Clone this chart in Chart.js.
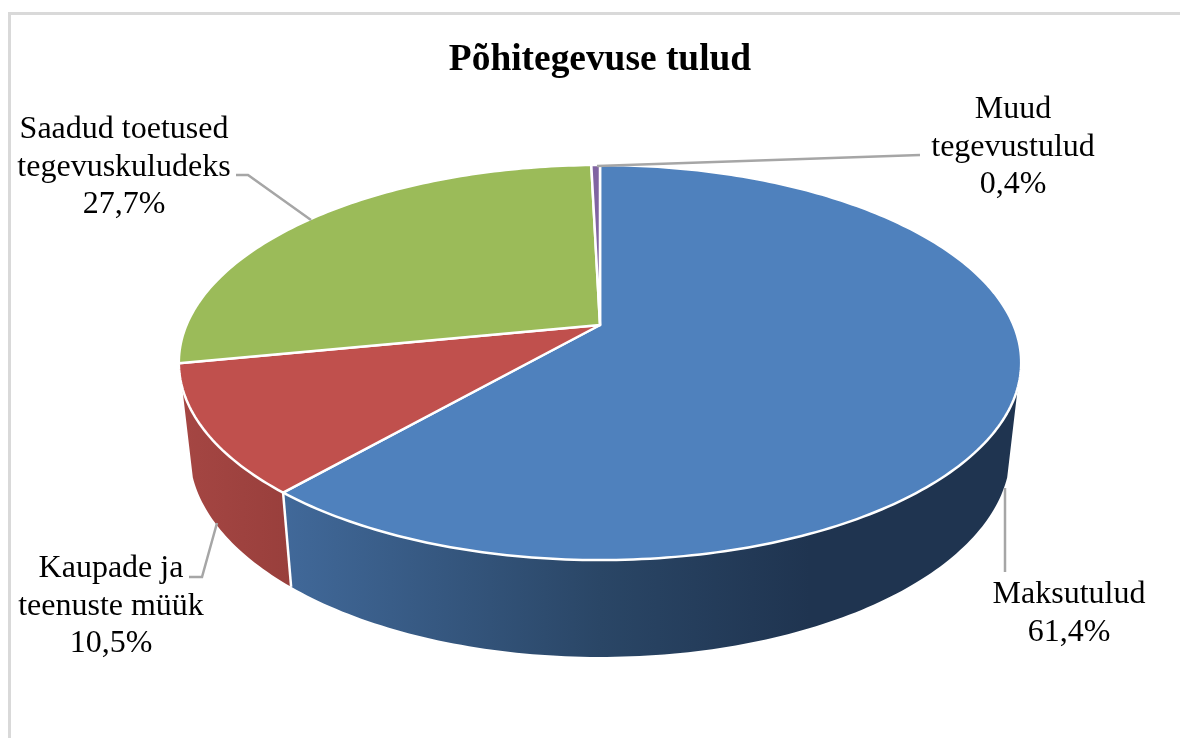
<!DOCTYPE html>
<html lang="et">
<head>
    <meta charset="UTF-8">
    <title>Põhitegevuse tulud</title>
    <script src="https://cdn.jsdelivr.net/npm/chart.js"></script>
    <style>
        html, body { margin: 0; background: #fff; overflow: hidden; }
        #frame { position: absolute; left: 8px; top: 12px; width: 1180px; height: 800px; border: 3px solid #d9d9d9; box-sizing: border-box; }
        canvas { position: absolute; left: 0; top: 0; filter: blur(0.6px); }
    </style>
</head>
<body>
    <div id="frame"></div>
    <canvas id="chart" width="1180" height="738"></canvas>
    <script>
        const titleText = 'Põhitegevuse tulud';
        const categories = ['Maksutulud', 'Kaupade ja teenuste müük', 'Saadud toetused tegevuskuludeks', 'Muud tegevustulud'];
        const shares = [61.4, 10.5, 27.7, 0.4];
        const topColors = ['#4f81bd', '#c0504d', '#9bbb59', '#8064a2'];
        const labelLines = [['Maksutulud'], ['Kaupade ja', 'teenuste müük'], ['Saadud toetused', 'tegevuskuludeks'], ['Muud', 'tegevustulud']];

        // perspective of the disc, tuned by eye against the reference
        const apexY = 325, tilt = 0.19;
        const topDisc = { a: 413.5, b: 190.4, y0: apexY };
        const lowDisc = { a: 403, b: 198, y0: 412.5 };
        // part of the rim that faces the viewer (canvas angles)
        const rimFrom = 18 * Math.PI / 180, rimTo = 162 * Math.PI / 180;

        function project(disc, cx, angle) {
            const w = 1 - tilt * Math.sin(angle);
            return { x: cx + disc.a * Math.cos(angle) / w, y: disc.y0 + disc.b * Math.sin(angle) / w };
        }

        function traceArc(ctx, disc, cx, from, to, first) {
            const steps = Math.max(2, Math.ceil(Math.abs(to - from) * 60));
            for (let i = 0; i <= steps; i++) {
                const p = project(disc, cx, from + (to - from) * i / steps);
                if (i === 0 && first) ctx.moveTo(p.x, p.y);
                else ctx.lineTo(p.x, p.y);
            }
        }

        function rimGradient(ctx, index) {
            const g = ctx.createLinearGradient(180, 0, 1020, 0);
            if (index === 0) {
                g.addColorStop(0.12, '#41699a');
                g.addColorStop(0.5, '#2a4666');
                g.addColorStop(0.75, '#1f3450');
                g.addColorStop(1, '#1f3450');
            } else {
                g.addColorStop(0, '#a54643');
                g.addColorStop(0.15, '#973e3b');
            }
            return g;
        }

        const disc3d = {
            id: 'disc3d',
            beforeDatasetsDraw(chart) {
                const ctx = chart.ctx;
                const arcs = chart.getDatasetMeta(0).data;
                ctx.save();
                ctx.lineJoin = 'round';
                ctx.strokeStyle = '#fff';

                // rim first, the top surface goes over it
                arcs.forEach((arc, i) => {
                    const from = Math.max(arc.startAngle, rimFrom);
                    const to = Math.min(arc.endAngle, rimTo);
                    if (to <= from) return;
                    ctx.beginPath();
                    traceArc(ctx, topDisc, arc.x, from, to, true);
                    traceArc(ctx, lowDisc, arc.x, to, from, false);
                    ctx.closePath();
                    ctx.fillStyle = rimGradient(ctx, i);
                    ctx.fill();
                });
                // seam between two rim parts
                arcs.forEach(arc => {
                    if (arc.endAngle > rimFrom && arc.endAngle < rimTo) {
                        const a = project(topDisc, arc.x, arc.endAngle);
                        const b = project(lowDisc, arc.x, arc.endAngle);
                        ctx.lineWidth = 2.5;
                        ctx.beginPath();
                        ctx.moveTo(a.x, a.y);
                        ctx.lineTo(b.x, b.y);
                        ctx.stroke();
                    }
                });

                arcs.forEach((arc, i) => {
                    ctx.beginPath();
                    ctx.moveTo(arc.x, apexY);
                    traceArc(ctx, topDisc, arc.x, arc.startAngle, arc.endAngle, false);
                    ctx.closePath();
                    ctx.fillStyle = topColors[i];
                    ctx.fill();
                    ctx.lineWidth = 2.5;
                    ctx.stroke();
                });
                ctx.restore();
                return false;
            },
            afterDraw(chart) {
                const ctx = chart.ctx;
                ctx.save();
                ctx.strokeStyle = '#a6a6a6';
                ctx.lineWidth = 2.5;
                const leaders = [
                    [[1005, 488], [1005, 572]],
                    [[189, 577], [202, 577], [217, 523]],
                    [[236, 175], [248, 175], [311, 220]],
                    [[597, 166], [920, 155]]
                ];
                leaders.forEach(pts => {
                    ctx.beginPath();
                    pts.forEach((p, i) => i ? ctx.lineTo(p[0], p[1]) : ctx.moveTo(p[0], p[1]));
                    ctx.stroke();
                });

                ctx.fillStyle = '#000';
                ctx.font = '32px "Liberation Serif"';
                ctx.textAlign = 'center';
                const labelPos = [[1069, 603], [111, 577], [124, 138], [1013, 118]];
                labelLines.forEach((lines, i) => {
                    const rows = lines.concat([shares[i].toFixed(1).replace('.', ',') + '%']);
                    rows.forEach((row, r) => ctx.fillText(row, labelPos[i][0], labelPos[i][1] + r * 37.5));
                });
                ctx.restore();
            }
        };

        new Chart(document.getElementById('chart'), {
            type: 'pie',
            data: {
                labels: categories,
                datasets: [{ data: shares, backgroundColor: topColors }]
            },
            options: {
                responsive: false,
                animation: false,
                layout: { padding: { left: 20, top: 38 } },
                plugins: {
                    legend: { display: false },
                    tooltip: { enabled: false },
                    title: {
                        display: true,
                        text: titleText,
                        color: '#000',
                        font: { family: '"Liberation Serif"', size: 37.4, weight: 'bold' },
                        padding: 0
                    }
                }
            },
            plugins: [disc3d]
        });
    </script>
</body>
</html>
